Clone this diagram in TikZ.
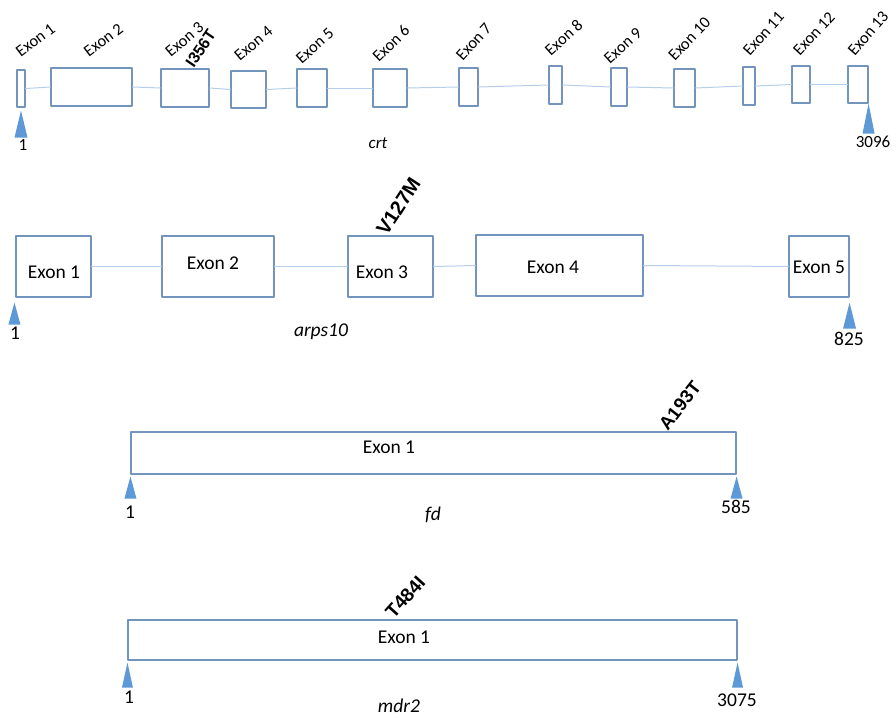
\documentclass[tikz,border=0pt]{standalone}
\usepackage{fontspec}
\setmainfont{Carlito}
\newfontfamily\mutfont{Liberation Sans}
\definecolor{exonblue}{rgb}{0.45,0.58,0.74}
\definecolor{intronblue}{rgb}{0.71,0.81,0.92}
\definecolor{siteblue}{rgb}{0.36,0.60,0.84}

\begin{document}
\begin{tikzpicture}[line cap=round,line join=round,x=1pt,y=-1pt,
	exonbox/.style={draw=exonblue,line width=1.1pt,inner sep=0pt},
	intron/.style={draw=intronblue,line width=1pt},
	tipfill/.style={fill=siteblue},
	exonlab/.style={rotate=#1,anchor=south west,inner sep=0pt,font=\fontsize{16.5}{19}\selectfont},
	mutlab/.style={rotate=#1,anchor=south west,inner sep=0pt},
	biglab/.style={inner sep=0pt,font=\fontsize{19.5}{23}\selectfont},
	smallnum/.style={inner sep=0pt,font=\fontsize{17}{20}\selectfont}]
	\useasboundingbox (0,0) rectangle (896,717);
		% crt
		\node[exonbox,minimum width=8,minimum height=37] (c1) at (21,88.5) {};
		\node[exonbox,minimum width=81,minimum height=38] (c2) at (91.5,87) {};
		\node[exonbox,minimum width=48,minimum height=38] (c3) at (185,88) {};
		\node[exonbox,minimum width=35,minimum height=37] (c4) at (248.5,89.5) {};
		\node[exonbox,minimum width=30,minimum height=38] (c5) at (312,88) {};
		\node[exonbox,minimum width=34,minimum height=38] (c6) at (390,88) {};
		\node[exonbox,minimum width=19,minimum height=38] (c7) at (468.5,87) {};
		\node[exonbox,minimum width=13,minimum height=38] (c8) at (555.5,85) {};
		\node[exonbox,minimum width=16,minimum height=38] (c9) at (619,87) {};
		\node[exonbox,minimum width=21,minimum height=38] (c10) at (684.5,88) {};
		\node[exonbox,minimum width=12,minimum height=38] (c11) at (749,86) {};
		\node[exonbox,minimum width=18,minimum height=37] (c12) at (801,84.5) {};
		\node[exonbox,minimum width=20,minimum height=37] (c13) at (858,84.5) {};
		\draw[intron] (c1.east)-- (c2.west);
		\draw[intron] (c2.east)-- (c3.west);
		\draw[intron] (c3.east)-- (c4.west);
		\draw[intron] (c4.east)-- (c5.west);
		\draw[intron] (c5.east)-- (c6.west);
		\draw[intron] (c6.east)-- (c7.west);
		\draw[intron] (c7.east)-- (c8.west);
		\draw[intron] (c8.east)-- (c9.west);
		\draw[intron] (c9.east)-- (c10.west);
		\draw[intron] (c10.east)-- (c11.west);
		\draw[intron] (c11.east)-- (c12.west);
		\draw[intron] (c12.east)-- (c13.west);
		\node[exonlab=37] (c1lab) at (21,58) {Exon 1};
		\node[exonlab=37] (c2lab) at (89,58) {Exon 2};
		\node[exonlab=40] (c3lab) at (171,58) {Exon 3};
		\node[exonlab=40] (c4lab) at (240,62) {Exon 4};
		\node[exonlab=42] (c5lab) at (302,65) {Exon 5};
		\node[exonlab=44] (c6lab) at (379,63) {Exon 6};
		\node[exonlab=48] (c7lab) at (463,62) {Exon 7};
		\node[exonlab=42] (c8lab) at (551,57) {Exon 8};
		\node[exonlab=42] (c9lab) at (610,65) {Exon 9};
		\node[exonlab=46] (c10lab) at (675,62) {Exon 10};
		\node[exonlab=48] (c11lab) at (750,57) {Exon 11};
		\node[exonlab=47] (c12lab) at (800,57) {Exon 12};
		\node[exonlab=49] (c13lab) at (855,57) {Exon 13};
		\node[mutlab=56,font=\mutfont\bfseries\fontsize{16}{19}\selectfont] (crtmut) at (194,69) {I356T};
		\fill[tipfill] (c1.south) ++(0,3) -- ++(-6.5,27) -- ++(13,0) -- cycle;
		\fill[tipfill] (c13.south east) -- ++(-6,30) -- ++(12,0) -- cycle;
		\node[smallnum] (crtstart) at (23,145) {1};
		\node[smallnum] (crtend) at (873,142) {3096};
		\node[inner sep=0pt,font=\itshape\fontsize{17}{20}\selectfont] (crtname) at (378,143) {crt};
		% arps10
		\node[exonbox,minimum width=75,minimum height=61] (a1) at (53.5,266.5) {};
		\node[exonbox,minimum width=112,minimum height=61] (a2) at (218,266.5) {};
		\node[exonbox,minimum width=85,minimum height=61] (a3) at (390.5,266.5) {};
		\node[exonbox,minimum width=167,minimum height=61] (a4) at (559.5,265.5) {};
		\node[exonbox,minimum width=60,minimum height=61] (a5) at (819,266.5) {};
		\draw[intron] (a1.east)-- (a2.west);
		\draw[intron] (a2.east)-- (a3.west);
		\draw[intron] (a3.east)-- (a4.west);
		\draw[intron] (a4.east)-- (a5.west);
		\node[biglab] (a1lab) at (54,272) {Exon 1};
		\node[biglab] (a2lab) at (213,263) {Exon 2};
		\node[biglab] (a3lab) at (382,272) {Exon 3};
		\node[biglab] (a4lab) at (553,267) {Exon 4};
		\node[biglab] (a5lab) at (819,267) {Exon 5};
		\node[mutlab=57,font=\mutfont\bfseries\fontsize{20}{23}\selectfont] (arpsmut) at (387,237) {V127M};
		\fill[tipfill] (a1.south west) ++(-1,5) -- ++(-6,22) -- ++(12,0) -- cycle;
		\fill[tipfill] (a5.south east) ++(0,5) -- ++(-6.5,26) -- ++(13,0) -- cycle;
		\node[biglab] (arpsstart) at (15,333) {1};
		\node[biglab] (arpsend) at (849,339) {825};
		\node[biglab,font=\itshape\fontsize{19.5}{23}\selectfont] (arpsname) at (321,332) {arps10};
		% fd
		\node[exonbox,minimum width=605,minimum height=42] (f1) at (433.5,453) {};
		\node[biglab] (f1lab) at (389,447) {Exon 1};
		\node[mutlab=52,font=\mutfont\bfseries\fontsize{18.5}{21}\selectfont] (fdmut) at (668,432) {A193T};
		\fill[tipfill] (f1.south west) ++(0,2) -- ++(-6,22) -- ++(12,0) -- cycle;
		\fill[tipfill] (f1.south east) ++(0,2) -- ++(-6,22) -- ++(12,0) -- cycle;
		\node[biglab] (fdstart) at (130,512) {1};
		\node[biglab] (fdend) at (736,507) {585};
		\node[biglab,font=\itshape\fontsize{19.5}{23}\selectfont] (fdname) at (433,515) {fd};
		% mdr2
		\node[exonbox,minimum width=609,minimum height=40] (m1) at (432.5,640) {};
		\node[biglab] (m1lab) at (404,637) {Exon 1};
		\node[mutlab=48,font=\mutfont\bfseries\fontsize{19}{22}\selectfont] (mdrmut) at (394,620) {T484I};
		\fill[tipfill] (m1.south west) ++(0,2) -- ++(-5.5,25) -- ++(11,0) -- cycle;
		\fill[tipfill] (m1.south east) ++(0,2) -- ++(-5.5,25) -- ++(11,0) -- cycle;
		\node[biglab] (mdrstart) at (129,697) {1};
		\node[biglab] (mdrend) at (737,700) {3075};
		\node[biglab,font=\itshape\fontsize{19.5}{23}\selectfont] (mdrname) at (399,706) {mdr2};
\end{tikzpicture}
\end{document}
